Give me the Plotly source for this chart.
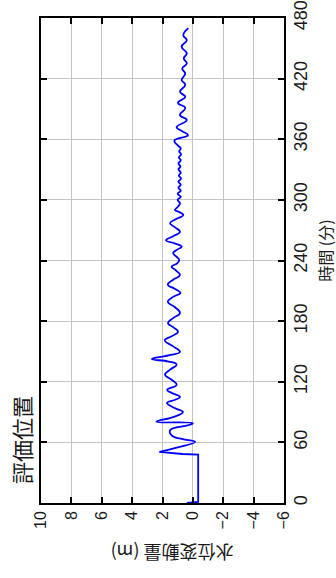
import plotly.graph_objects as go

# Data (time in minutes, water level change in metres)
time_min = [0, 0.5, 1, 48, 48.5, 50.5, 55, 60.5, 63, 67, 72, 77, 79, 80.5, 85, 90, 94, 99,
            102, 105, 109, 112, 117, 122, 127, 132, 137, 140, 142.5, 146, 149.5, 155, 161,
            165, 169.5, 174, 178, 183, 188, 194, 199, 204, 208, 212, 216, 221, 225.5, 230,
            234, 237, 240.5, 244, 247.5, 251, 253.7, 257, 260, 264, 268.5, 273, 277, 281,
            285, 288, 290, 293, 296.6, 300, 303, 306, 309, 312, 315, 318, 321, 324, 327,
            330, 333, 336, 339, 342, 345, 348, 351, 354, 358.6, 364, 368, 372, 379, 384,
            391, 396, 402, 407, 414, 418.6, 425, 430, 435, 440, 445, 451.6, 458, 463, 470]
level_m = [0.4, -0.35, -0.35, -0.35, 0.7, 2.2, 1.0, -0.15, 0.6, 1.4, 1.5, 0.3, 0.0, 2.4, 1.3,
           0.65, 1.2, 1.7, 1.2, 0.85, 1.4, 1.7, 1.07, 1.4, 1.84, 1.5, 1.07, 1.6, 2.7, 1.6,
           0.85, 1.3, 1.85, 1.4, 0.98, 1.3, 1.64, 1.3, 0.85, 1.2, 1.65, 1.3, 0.82, 1.2, 1.65,
           1.3, 0.85, 1.1, 1.4, 1.05, 0.9, 1.1, 1.3, 1.0, 0.74, 1.2, 1.77, 1.3, 0.85, 1.2,
           1.5, 1.1, 0.63, 0.9, 1.18, 1.0, 0.85, 1.0, 0.8, 1.0, 0.8, 0.95, 0.8, 0.95, 0.78,
           0.92, 0.8, 0.95, 0.82, 0.95, 0.8, 0.92, 0.78, 0.9, 0.8, 1.0, 1.22, 0.32, 0.7, 1.07,
           0.4, 0.85, 0.5, 0.98, 0.5, 0.85, 0.5, 0.74, 0.5, 0.7, 0.4, 0.6, 0.4, 0.74, 0.4,
           0.63, 0.3]

time_ticks = [0, 60, 120, 180, 240, 300, 360, 420, 480]
level_ticks = [10, 8, 6, 4, 2, 0, -2, -4, -6]
level_tick_labels = ["10", "8", "6", "4", "2", "0", "\u22122", "\u22124", "\u22126"]

title_text = "評価位置"
time_title = "時間 (分)"
level_title = "水位変動量 (m)"

STEP_END = 6  # first points form the sharp initial step

fig = go.Figure()
fig.add_trace(go.Scatter(x=level_m[:STEP_END], y=time_min[:STEP_END], mode="lines",
                         line=dict(color="#0000ff", width=1.8), showlegend=False))
fig.add_trace(go.Scatter(x=level_m[STEP_END - 1:], y=time_min[STEP_END - 1:], mode="lines",
                         line=dict(color="#0000ff", width=1.8, shape="spline", smoothing=1.3),
                         showlegend=False))

tick_family = "Liberation Sans, Arial, sans-serif"
fig.update_layout(
    width=336, height=578,
    margin=dict(l=41, r=52, t=18, b=75),
    paper_bgcolor="white", plot_bgcolor="white",
    xaxis=dict(range=[10, -6], tickvals=level_ticks, ticktext=level_tick_labels,
               tickangle=-90, ticks="inside", ticklen=6, tickwidth=1.5, tickcolor="black",
               showline=True, linecolor="black", linewidth=1.5, mirror="ticks",
               showgrid=True, gridcolor="#c4c4c4", gridwidth=1, zeroline=False,
               tickfont=dict(family=tick_family, size=16, color="#1a1a1a"),
               automargin=False, fixedrange=True),
    yaxis=dict(range=[0, 480], tickvals=time_ticks, side="right",
               tickangle=-90, ticks="inside", ticklen=6, tickwidth=1.5, tickcolor="black",
               showline=True, linecolor="black", linewidth=1.5, mirror="ticks",
               showgrid=True, gridcolor="#c4c4c4", gridwidth=1, zeroline=False,
               tickfont=dict(family=tick_family, size=18, color="#1a1a1a"),
               automargin=False, fixedrange=True),
    annotations=[
        dict(text=time_title, xref="paper", yref="paper", x=1.0, xshift=41, y=0.52,
             xanchor="center", yanchor="middle", showarrow=False, textangle=-90,
             font=dict(family="Noto Sans CJK JP", size=16, color="#1a1a1a")),
        dict(text=level_title, xref="paper", yref="paper", x=0.54, y=0, yshift=-50,
             xanchor="center", yanchor="middle", showarrow=False, textangle=180,
             font=dict(family="Noto Sans CJK JP", size=18, color="#1a1a1a")),
        dict(text=title_text, xref="paper", yref="paper", x=0, xshift=-20, y=0.13,
             xanchor="center", yanchor="middle", showarrow=False, textangle=-90,
             font=dict(family="Noto Sans CJK JP", size=22, color="#1a1a1a")),
    ],
)

fig.write_html("out.html",
               config={"displayModeBar": False},
               post_script="document.body.style.margin='0';document.body.style.overflow='hidden';")
